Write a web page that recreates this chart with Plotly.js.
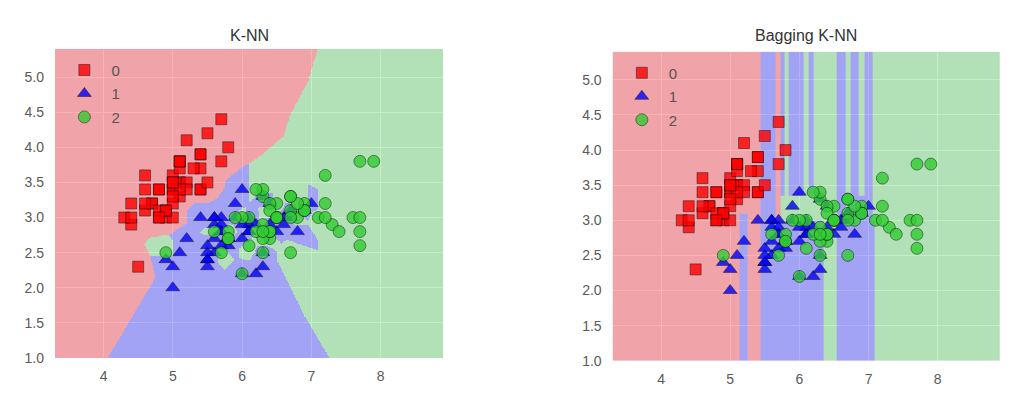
<!DOCTYPE html>
<html>
<head>
<meta charset="utf-8">
<script src="https://cdn.plot.ly/plotly-3.0.1.min.js"></script>
<style>html,body{margin:0;padding:0;background:#fff;}#chart{width:1021px;height:398px;}</style>
</head>
<body>
<div id="chart"></div>
<script>
// ---- Data: iris sepal length / sepal width, per class ----
const classLabels = ['0', '1', '2'];
const class0Length = [5.1,4.9,4.7,4.6,5.0,5.4,4.6,5.0,4.4,4.9,5.4,4.8,4.8,4.3,5.8,5.7,5.4,5.1,5.7,5.1,5.4,5.1,4.6,5.1,4.8,5.0,5.0,5.2,5.2,4.7,4.8,5.4,5.2,5.5,4.9,5.0,5.5,4.9,4.4,5.1,5.0,4.5,4.4,5.0,5.1,4.8,5.1,4.6,5.3,5.0];
const class0Width  = [3.5,3.0,3.2,3.1,3.6,3.9,3.4,3.4,2.9,3.1,3.7,3.4,3.0,3.0,4.0,4.4,3.9,3.5,3.8,3.8,3.4,3.7,3.6,3.3,3.4,3.0,3.4,3.5,3.4,3.2,3.1,3.4,4.1,4.2,3.1,3.2,3.5,3.1,3.0,3.4,3.5,2.3,3.2,3.5,3.8,3.0,3.8,3.2,3.7,3.3];
const class1Length = [7.0,6.4,6.9,5.5,6.5,5.7,6.3,4.9,6.6,5.2,5.0,5.9,6.0,6.1,5.6,6.7,5.6,5.8,6.2,5.6,5.9,6.1,6.3,6.1,6.4,6.6,6.8,6.7,6.0,5.7,5.5,5.5,5.8,6.0,5.4,6.0,6.7,6.3,5.6,5.5,5.5,6.1,5.8,5.0,5.6,5.7,5.7,6.2,5.1,5.7];
const class1Width  = [3.2,3.2,3.1,2.3,2.8,2.8,3.3,2.4,2.9,2.7,2.0,3.0,2.2,2.9,2.9,3.1,3.0,2.7,2.2,2.5,3.2,2.8,2.5,2.8,2.9,3.0,2.8,3.0,2.9,2.6,2.4,2.4,2.7,2.7,3.0,3.4,3.1,2.3,3.0,2.5,2.6,3.0,2.6,2.3,2.7,3.0,2.9,2.9,2.5,2.8];
const class2Length = [6.3,5.8,7.1,6.3,6.5,7.6,4.9,7.3,6.7,7.2,6.5,6.4,6.8,5.7,5.8,6.4,6.5,7.7,7.7,6.0,6.9,5.6,7.7,6.3,6.7,7.2,6.2,6.1,6.4,7.2,7.4,7.9,6.4,6.3,6.1,7.7,6.3,6.4,6.0,6.9,6.7,6.9,5.8,6.8,6.7,6.7,6.3,6.5,6.2,5.9];
const class2Width  = [3.3,2.7,3.0,2.9,3.0,3.0,2.5,2.9,2.5,3.6,3.2,2.7,3.0,2.5,2.8,3.2,3.0,3.8,2.6,2.2,3.2,2.8,2.8,2.7,3.3,3.2,2.8,3.0,2.8,3.0,2.8,3.8,2.8,2.8,2.6,3.0,3.4,3.1,3.0,3.1,3.1,3.1,2.7,3.2,3.3,3.0,2.5,3.0,3.4,3.0];

// Axis ranges and tick labels
const xRange = [3.3, 8.9];
const yRange = [1.0, 5.4];
const xTicks = [4, 5, 6, 7, 8];
const yTicks = [1.0, 1.5, 2.0, 2.5, 3.0, 3.5, 4.0, 4.5, 5.0];
const yTickText = ['1.0','1.5','2.0','2.5','3.0','3.5','4.0','4.5','5.0'];

// Bagging K-NN decision regions (column edges / row edges / class per cell)
const baggingXEdges = [3.3, 5.134, 5.253, 5.446, 5.652, 5.734, 5.781, 5.843, 6.055, 6.131, 6.199, 6.357, 6.534, 6.669, 6.741, 6.850, 6.947, 7.062, 7.086, 8.9];
const baggingYEdges = [1.0, 3.0, 3.1, 3.35, 5.4];
const baggingRegions = [
  [0,1,0,1,1,1,1,1,1,1,1,2,1,1,1,1,1,1,2],
  [0,1,0,1,0,2,2,2,2,2,2,2,1,2,1,1,1,2,2],
  [0,0,0,1,0,2,2,2,2,2,2,2,1,2,1,1,1,2,2],
  [0,0,0,1,0,1,2,1,2,1,2,2,1,2,1,2,1,2,2]
];

// ---- K-NN (k = 1) decision regions derived from the data ----
const allLength = class0Length.concat(class1Length, class2Length);
const allWidth = class0Width.concat(class1Width, class2Width);
const allClass = class0Length.map(() => 0).concat(class1Length.map(() => 1), class2Length.map(() => 2));
const step = 0.01;
const nx = Math.round((xRange[1] - xRange[0]) / step);
const ny = Math.round((yRange[1] - yRange[0]) / step);
const knnZ = [];
for (let j = 0; j < ny; j++) {
  const gy = yRange[0] + (j + 0.5) * step;
  const row = [];
  for (let i = 0; i < nx; i++) {
    const gx = xRange[0] + (i + 0.5) * step;
    let best = Infinity, cls = 0;
    for (let k = 0; k < allLength.length; k++) {
      const dx = allLength[k] - gx, dy = allWidth[k] - gy;
      const d = dx * dx + dy * dy;
      if (d < best - 1e-12) { best = d; cls = allClass[k]; }
    }
    row.push(cls);
  }
  knnZ.push(row);
}

const regionScale = [[0,'rgb(255,0,0)'],[0.3333,'rgb(255,0,0)'],[0.3333,'rgb(0,0,255)'],[0.6667,'rgb(0,0,255)'],[0.6667,'rgb(50,205,50)'],[1,'rgb(50,205,50)']];

const traces = [];
traces.push({type:'heatmap', x0: xRange[0] + step/2, dx: step, y0: yRange[0] + step/2, dy: step, z: knnZ,
  zmin:0, zmax:2, colorscale: regionScale, showscale:false, opacity:0.3, zsmooth:false, hoverinfo:'skip', xaxis:'x', yaxis:'y'});
traces.push({type:'heatmap', x: baggingXEdges, y: baggingYEdges, z: baggingRegions,
  zmin:0, zmax:2, colorscale: regionScale, showscale:false, opacity:0.3, zsmooth:false, hoverinfo:'skip', xaxis:'x2', yaxis:'y2'});

const markerStyles = [
  {symbol:'square', color:'rgb(255,0,0)', size:11},
  {symbol:'triangle-up', color:'rgb(0,0,255)', size:12},
  {symbol:'circle', color:'rgb(50,205,50)', size:12}
];
const classX = [class0Length, class1Length, class2Length];
const classY = [class0Width, class1Width, class2Width];
[['x','y','legend'],['x2','y2','legend2']].forEach(([xa, ya, lg]) => {
  for (let c = 0; c < 3; c++) {
    traces.push({type:'scatter', mode:'markers', x: classX[c], y: classY[c], name: classLabels[c],
      legend: lg, legendgroup: lg + c, xaxis: xa, yaxis: ya, hoverinfo:'skip',
      marker: {symbol: markerStyles[c].symbol, color: markerStyles[c].color, size: markerStyles[c].size,
               opacity: 0.8, line: {color:'rgba(0,0,0,0.55)', width: 1}}});
  }
});

const tickFont = {family:'Liberation Sans, Arial, sans-serif', size:14, color:'#5a5a5a'};
function xAx(domain, anchor) {
  return {domain: domain, anchor: anchor, range: xRange, tickvals: xTicks, ticktext: xTicks.map(String),
    showgrid:true, gridcolor:'#ffffff', gridwidth:1, zeroline:false, showline:false, ticks:'',
    ticklabelstandoff: 8, tickfont: tickFont, fixedrange:true};
}
function yAx(domain, anchor) {
  return {domain: domain, anchor: anchor, range: yRange, tickvals: yTicks, ticktext: yTickText,
    showgrid:true, gridcolor:'#ffffff', gridwidth:1, zeroline:false, showline:false, ticks:'',
    ticklabelstandoff: 10, tickfont: tickFont, fixedrange:true};
}
const legendCommon = {bgcolor:'rgba(0,0,0,0)', borderwidth:0, xanchor:'left', yanchor:'top', itemwidth: 44,
  font:{family:'Liberation Sans, Arial, sans-serif', size:15, color:'#555555'}, tracegroupgap: 1};

const layout = {
  width:1021, height:398, margin:{l:0, r:0, t:0, b:0},
  paper_bgcolor:'#ffffff', plot_bgcolor:'#EAEAF2', showlegend:true,
  xaxis: xAx([0.0539, 0.4339], 'y'), yaxis: yAx([0.1005, 0.8769], 'x'),
  xaxis2: xAx([0.600, 0.9794], 'y2'), yaxis2: yAx([0.0937, 0.870], 'x2'),
  legend: Object.assign({x:0.0562, y:0.865}, legendCommon),
  legend2: Object.assign({x:0.6022, y:0.858}, legendCommon),
  annotations: [
    {text:'K-NN', xref:'paper', yref:'paper', x:0.2439, y:(398-35)/398, xanchor:'center', yanchor:'middle', showarrow:false,
     font:{family:'Liberation Sans, Arial, sans-serif', size:16, color:'#333333'}},
    {text:'Bagging K-NN', xref:'paper', yref:'paper', x:0.7897, y:(398-36)/398, xanchor:'center', yanchor:'middle', showarrow:false,
     font:{family:'Liberation Sans, Arial, sans-serif', size:16, color:'#333333'}}
  ]
};
Plotly.newPlot('chart', traces, layout, {displayModeBar:false, staticPlot:true});
</script>
</body>
</html>
